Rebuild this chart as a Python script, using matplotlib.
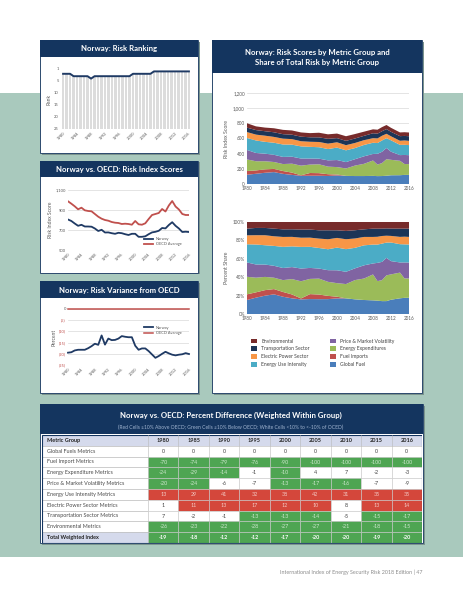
import matplotlib
matplotlib.use('Agg')
import matplotlib.pyplot as plt
from matplotlib.patches import Rectangle

plt.rcParams['font.family'] = ['Lato', 'DejaVu Sans']

W, H = 463, 599

# ---- data ----
years = list(range(1980, 2017))
rank = [2, 2, 2, 3, 3, 3, 3, 3, 4, 3,
        3, 3, 3, 3, 3, 3, 3, 3, 3, 3,
        2, 2, 2, 2, 2, 2, 1, 1, 1, 1,
        1, 1, 1, 1, 1, 1, 1]
norway_score = [805, 790, 765, 742, 752, 735, 735, 733, 715, 690,
                702, 675, 676, 668, 662, 672, 668, 658, 650, 662,
                662, 632, 632, 637, 658, 676, 682, 692, 720, 716,
                750, 778, 742, 715, 680, 683, 680]
oecd_score = [987, 963, 937, 907, 923, 897, 890, 887, 860, 833,
              813, 800, 793, 780, 773, 770, 760, 763, 760, 753,
              790, 757, 753, 767, 810, 850, 860, 870, 910, 885,
              945, 990, 935, 905, 860, 850, 850]
norway_variance = [-19.5, -19.3, -18.5, -18.2, -18.2, -18.2, -17.5, -16.6, -15.5, -16.0,
                   -11.8, -15.9, -13.2, -13.9, -13.8, -13.2, -12.1, -12.4, -12.6, -12.6,
                   -16.4, -18.2, -17.6, -17.6, -18.8, -20.3, -21.8, -21.0, -20.0, -19.1,
                   -19.8, -20.4, -20.7, -20.4, -20.2, -19.7, -20.1]
oecd_variance = [0] * len(years)

group_years = [1980, 1982, 1984, 1986, 1988, 1990, 1992, 1994, 1996, 1998, 2000,
               2002, 2004, 2006, 2008, 2009, 2010, 2011, 2012, 2014, 2015, 2016]
global_fuel = [122, 135, 148, 157, 134, 120, 108, 109, 109, 106, 113,
               107, 105, 105, 107, 104, 105, 109, 115, 116, 120, 120]
fuel_imports = [49, 44, 45, 42, 37, 30, 7, 36, 34, 23, 12,
                0, 0, 0, 0, 0, 0, 0, 0, 0, 0, 0]
energy_exp = [153, 121, 107, 91, 92, 118, 127, 111, 117, 100, 98,
              98, 138, 161, 203, 152, 171, 218, 204, 190, 144, 142]
price_vol = [125, 109, 100, 95, 94, 92, 94, 80, 74, 83, 93,
             84, 84, 99, 86, 142, 149, 148, 107, 75, 119, 118]
energy_use = [158, 165, 156, 159, 164, 159, 160, 154, 151, 149, 164,
              155, 147, 150, 148, 142, 149, 129, 150, 135, 134, 133]
electric = [78, 77, 81, 77, 77, 73, 68, 67, 69, 71, 70,
            68, 67, 63, 60, 61, 62, 58, 53, 54, 57, 56]
transport = [58, 60, 59, 61, 59, 58, 60, 59, 61, 64, 55,
             57, 59, 57, 65, 63, 60, 62, 59, 61, 60, 61]
environmental = [58, 49, 48, 53, 57, 56, 56, 55, 61, 59, 60,
                 61, 59, 55, 52, 52, 54, 54, 53, 49, 49, 49]
group_names = ['Global Fuel', 'Fuel Imports', 'Energy Expenditures',
               'Price & Market Volatility', 'Energy Use Intensity',
               'Electric Power Sector', 'Transportation Sector', 'Environmental']
group_colors = ['#4a7ebb', '#c0504d', '#9bbb59', '#8064a2',
                '#4bacc6', '#f79646', '#1c3557', '#772b2b']

table_years = ['1980', '1985', '1990', '1995', '2000', '2005', '2010', '2015', '2016']
metric_groups = ['Global Fuels Metrics', 'Fuel Import Metrics', 'Energy Expenditure Metrics',
                 'Price & Market Volatility Metrics', 'Energy Use Intensity Metrics',
                 'Electric Power Sector Metrics', 'Transportation Sector Metrics',
                 'Environmental Metrics', 'Total Weighted Index']
pct_diff = [
    [0, 0, 0, 0, 0, 0, 0, 0, 0],
    [-70, -74, -79, -76, -90, -100, -100, -100, -100],
    [-24, -29, -14, -1, -10, 4, 7, -2, -3],
    [-20, -24, -6, -7, -13, -17, -16, -7, -9],
    [13, 29, 41, 32, 38, 42, 31, 35, 35],
    [1, 11, 13, 17, 12, 10, 8, 13, 14],
    [7, -2, -1, -13, -13, -14, -5, -15, -17],
    [-26, -23, -22, -28, -27, -27, -21, -18, -15],
    [-19, -18, -12, -12, -17, -20, -20, -19, -20],
]

NAVY = '#14355f'
NORWAY = '#1f3a64'
OECD = '#c0504d'
TICK = '#595959'

fig = plt.figure(figsize=(W / 100, H / 100), dpi=100)


def rect_px(x0, y0, x1, y1):
    return [x0 / W, 1 - y1 / H, (x1 - x0) / W, (y1 - y0) / H]


def fig_rect(x0, y0, x1, y1, **kw):
    fig.patches.append(Rectangle((x0 / W, 1 - y1 / H), (x1 - x0) / W, (y1 - y0) / H,
                                 transform=fig.transFigure, **kw))


def fig_text(x, y, s, **kw):
    fig.text(x / W, 1 - y / H, s, **kw)


def panel(x0, y0, x1, y1, head, title=None, fs=5.6):
    fig_rect(x0 + 1.5, y0 + 1.5, x1 + 1.5, y1 + 1.5, fc='#7c958e', ec='none', zorder=-3)
    fig_rect(x0, y0, x1, y1, fc='white', ec='#2c4a6e', lw=0.7, zorder=-2)
    fig_rect(x0, y0, x1, y0 + head, fc=NAVY, ec='none', zorder=-1)
    if title:
        fig_text((x0 + x1) / 2, y0 + head / 2 + 0.5, title, color='white', fontsize=fs,
                 fontweight='bold', ha='center', va='center', linespacing=1.5)


def style(ax, fs=3.0):
    for s in ax.spines.values():
        s.set_visible(False)
    ax.tick_params(length=0, labelsize=fs, colors=TICK, pad=1.5)
    ax.set_facecolor('none')


def slant_years(ax):
    ax.set_xticks(range(1980, 2017, 4))
    for lbl in ax.get_xticklabels():
        lbl.set_rotation(45)
        lbl.set_ha('right')
        lbl.set_rotation_mode('anchor')


# background band
fig_rect(0, 93, W, 557, fc='#a9c9bd', ec='none', zorder=-5)

panel(40, 40, 198, 153, 17, 'Norway: Risk Ranking')
panel(40, 161, 198, 273, 16, 'Norway vs. OECD: Risk Index Scores')
panel(40, 281, 198, 393, 17, 'Norway: Risk Variance from OECD')
panel(212, 40, 422, 393, 33, 'Norway: Risk Scores by Metric Group and\nShare of Total Risk by Metric Group')
panel(40, 404, 423, 543, 30)
fig_text(231, 415, 'Norway vs. OECD: Percent Difference (Weighted Within Group)',
         color='white', fontsize=5.6, fontweight='bold', ha='center', va='center')
fig_text(231, 427, '(Red Cells \u226510% Above OECD; Green Cells \u226410% Below OECD; '
         'White Cells <10% to <-10% of OCED)', color='#9fb3cf', fontsize=3.6,
         ha='center', va='center')

# ---- rank chart ----
ax1 = fig.add_axes(rect_px(61, 69, 191, 129))
style(ax1)
ax1.bar(years, [25 - r for r in rank], bottom=rank, width=0.78, color='#dcdcdc')
ax1.plot(years, rank, color=NORWAY, lw=1.4)
ax1.set_xlim(1979.4, 2016.6)
ax1.set_ylim(25, 0)
ax1.set_yticks([0, 5, 10, 15, 20, 25], ['1', '5', '10', '15', '20', '25'])
ax1.set_ylabel('Rank', fontsize=3.6, color=TICK, labelpad=2)
slant_years(ax1)

# ---- risk index scores ----
ax2 = fig.add_axes(rect_px(68, 190, 189, 250))
style(ax2)
ax2.plot(years, norway_score, color=NORWAY, lw=1.3, label='Norway')
ax2.plot(years, oecd_score, color=OECD, lw=1.3, label='OECD Average')
ax2.set_xlim(1980, 2016)
ax2.set_ylim(500, 1100)
ax2.set_yticks([500, 700, 900, 1100], ['500', '700', '900', '1,100'])
ax2.grid(axis='y', color='#d9d9d9', lw=0.5)
ax2.set_axisbelow(True)
ax2.set_ylabel('Risk Index Score', fontsize=3.6, color=TICK, labelpad=2)
slant_years(ax2)
ax2.legend(loc='lower right', bbox_to_anchor=(0.97, 0.0), fontsize=2.8, frameon=False,
           handlelength=2.2, labelspacing=0.4, labelcolor=TICK)

# ---- variance chart ----
ax3 = fig.add_axes(rect_px(68, 309, 189, 365))
style(ax3)
ax3.plot(years, norway_variance, color=NORWAY, lw=1.3, label='Norway', clip_on=False)
ax3.plot(years, oecd_variance, color=OECD, lw=1.1, label='OECD Average', clip_on=False)
ax3.set_xlim(1980, 2016)
ax3.set_ylim(-25, 0)
ticks = [0, -5, -10, -15, -20, -25]
ax3.set_yticks(ticks, ['0' if t == 0 else '(%d)' % -t for t in ticks])
for t, lbl in zip(ticks, ax3.get_yticklabels()):
    lbl.set_color(TICK if t == 0 else OECD)
ax3.grid(axis='y', color='#d9d9d9', lw=0.5)
ax3.set_axisbelow(True)
ax3.set_ylabel('Percent', fontsize=3.6, color=TICK, labelpad=2)
slant_years(ax3)
ax3.legend(loc='center right', bbox_to_anchor=(0.97, 0.62), fontsize=2.8, frameon=False,
           handlelength=2.2, labelspacing=0.4, labelcolor=TICK)

# ---- stacked scores ----
layers = [global_fuel, fuel_imports, energy_exp, price_vol, energy_use,
          electric, transport, environmental]
ax4 = fig.add_axes(rect_px(247, 93, 409, 184))
style(ax4, 3.3)
polys = ax4.stackplot(group_years, *layers, colors=group_colors, labels=group_names, lw=0)
ax4.set_xlim(1980, 2016)
ax4.set_ylim(0, 1200)
ax4.set_yticks(range(0, 1201, 200), ['0', '200', '400', '600', '800', '1,000', '1,200'])
ax4.set_xticks(range(1980, 2017, 4))
ax4.grid(axis='y', color='#d9d9d9', lw=0.5)
ax4.set_axisbelow(True)
ax4.set_ylabel('Risk Index Score', fontsize=3.8, color=TICK, labelpad=3)

# ---- shares ----
totals = [sum(v) for v in zip(*layers)]
shares = [[100 * v / t for v, t in zip(layer, totals)] for layer in layers]
ax5 = fig.add_axes(rect_px(247, 222, 409, 314))
style(ax5, 3.3)
ax5.stackplot(group_years, *shares, colors=group_colors, lw=0)
ax5.set_xlim(1980, 2016)
ax5.set_ylim(0, 100)
ax5.set_yticks(range(0, 101, 20), ['%d%%' % v for v in range(0, 101, 20)])
ax5.set_xticks(range(1980, 2017, 4))
ax5.set_ylabel('Percent Share', fontsize=3.8, color=TICK, labelpad=3)

fig.legend(polys[::-1], group_names[::-1], ncol=2, loc='upper left',
           bbox_to_anchor=(246 / W, 1 - 334 / H), fontsize=3.6, frameon=False,
           handlelength=1.3, handleheight=1.1, labelspacing=0.55, columnspacing=4.0,
           handletextpad=0.8, labelcolor='#404040')

# ---- table ----
tx0, tx1, ty0 = 42, 422, 435
row_h = 10.8
first_w = 106
col_w = (tx1 - tx0 - first_w) / len(table_years)
axt = fig.add_axes(rect_px(tx0, ty0, tx1, ty0 + row_h * 10))
axt.set_xlim(tx0, tx1)
axt.set_ylim(ty0 + row_h * 10, ty0)
axt.axis('off')
HEAD_BG = '#d5daec'
axt.add_patch(Rectangle((tx0, ty0), tx1 - tx0, row_h, fc=HEAD_BG, ec='#b8b8b8', lw=0.4))
axt.text(tx0 + 5, ty0 + row_h / 2, 'Metric Group', fontsize=4.0, fontweight='bold',
         color='#222222', va='center')
for j, yr in enumerate(table_years):
    cx = tx0 + first_w + col_w * (j + 0.5)
    axt.text(cx, ty0 + row_h / 2, yr, fontsize=4.0, fontweight='bold', color='#222222',
             ha='center', va='center')
    axt.plot([cx - col_w / 2] * 2, [ty0, ty0 + row_h], color='#b8b8b8', lw=0.4)
for i, (name, row) in enumerate(zip(metric_groups, pct_diff)):
    y = ty0 + row_h * (i + 1)
    total = name.startswith('Total')
    axt.add_patch(Rectangle((tx0, y), first_w, row_h, fc=HEAD_BG if total else 'white',
                            ec='#b8b8b8', lw=0.4))
    axt.text(tx0 + 5, y + row_h / 2, name, fontsize=3.9, color='#222222' if total else '#4a4a4a',
             fontweight='bold' if total else 'normal', va='center')
    for j, v in enumerate(row):
        x = tx0 + first_w + col_w * j
        if v >= 10:
            fc, tc = '#d4473b', '#f3c9c4'
        elif v <= -10:
            fc, tc = '#4ea552', '#cfe8cf'
        else:
            fc, tc = 'white', '#404040'
        if total:
            tc = 'white'
        axt.add_patch(Rectangle((x, y), col_w, row_h, fc=fc, ec='#c8c8c8', lw=0.4))
        axt.text(x + col_w / 2, y + row_h / 2, str(v), fontsize=3.9, color=tc,
                 fontweight='bold' if total else 'normal', ha='center', va='center')
axt.add_patch(Rectangle((tx0, ty0), tx1 - tx0, row_h * 10, fc='none', ec=NAVY, lw=0.8))

fig_text(422, 572, 'International Index of Energy Security Risk 2018 Edition | 47',
         fontsize=3.9, color='#8c8c8c', ha='right', va='center')

fig.savefig('out.png', dpi=100)
